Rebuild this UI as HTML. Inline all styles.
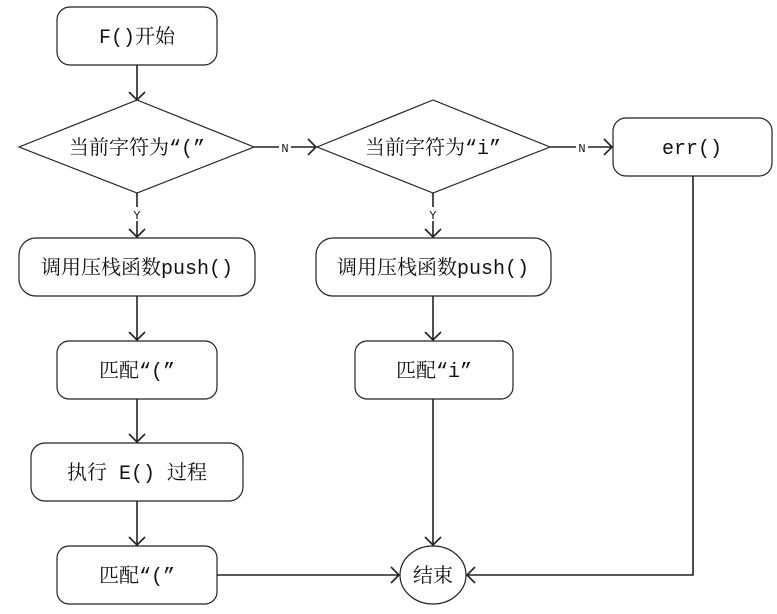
<!DOCTYPE html>
<html><head><meta charset="utf-8"><style>
html,body{margin:0;padding:0;background:#fff;}
svg text{font-family:"Liberation Mono","Noto Serif CJK SC",monospace;font-size:20px;fill:#111;}
.s{font-size:12px;}
</style></head><body>
<svg width="777" height="609" viewBox="0 0 777 609" xmlns="http://www.w3.org/2000/svg">
<g fill="#fff" stroke="#222" stroke-width="1.2">
<rect x="57" y="7" width="160" height="58" rx="13"/>
<polygon points="19,147 137,100 254,147 137,193"/>
<polygon points="317,147 433,100 550,147 433,193"/>
<rect x="613" y="118" width="159" height="58" rx="13"/>
<rect x="19" y="238" width="236" height="58" rx="17"/>
<rect x="316" y="238" width="235" height="58" rx="17"/>
<rect x="57" y="341" width="160" height="58" rx="12"/>
<rect x="355" y="341" width="158" height="58" rx="12"/>
<rect x="31" y="443" width="212" height="58" rx="14"/>
<rect x="57" y="546" width="160" height="58" rx="12"/>
<ellipse cx="433" cy="575" rx="33" ry="29"/>
</g>
<g fill="none" stroke="#222" stroke-width="1.6">
<path d="M137 65V100M129 92L137 100L145 92"/>
<path d="M137 193V237M129 229L137 237L145 229"/>
<path d="M433 193V237M425 229L433 237L441 229"/>
<path d="M137 296V340M129 332L137 340L145 332"/>
<path d="M433 296V340M425 332L433 340L441 332"/>
<path d="M137 399V442M129 434L137 442L145 434"/>
<path d="M137 501V545M129 537L137 545L145 537"/>
<path d="M433 399V545M425 537L433 545L441 537"/>
<path d="M254 147H316M308 139L316 147L308 155"/>
<path d="M550 147H612M604 139L612 147L604 155"/>
<path d="M217 575H399M391 567L399 575L391 583"/>
<path d="M693 176V575H467M475 567L467 575L475 583"/>
</g>
<g fill="#fff">
<rect x="279" y="140" width="12" height="14"/><rect x="576" y="140" width="12" height="14"/>
<rect x="131" y="207" width="12" height="14"/><rect x="427" y="207" width="12" height="14"/>
</g>
<text class="s" x="285" y="152" text-anchor="middle">N</text>
<text class="s" x="582" y="152" text-anchor="middle">N</text>
<text class="s" x="137" y="219" text-anchor="middle">Y</text>
<text class="s" x="433" y="219" text-anchor="middle">Y</text>
<g text-anchor="middle">
<text x="137" y="43">F()开始</text>
<text x="137" y="154">当前字符为“(”</text>
<text x="433" y="154">当前字符为“i”</text>
<text x="692" y="154">err()</text>
<text x="137" y="274">调用压栈函数push()</text>
<text x="433" y="274">调用压栈函数push()</text>
<text x="137" y="377">匹配“(”</text>
<text x="434" y="377">匹配“i”</text>
<text x="137" y="479">执行 E() 过程</text>
<text x="137" y="582">匹配“(”</text>
<text x="433" y="582">结束</text>
</g>
</svg>
</body></html>
